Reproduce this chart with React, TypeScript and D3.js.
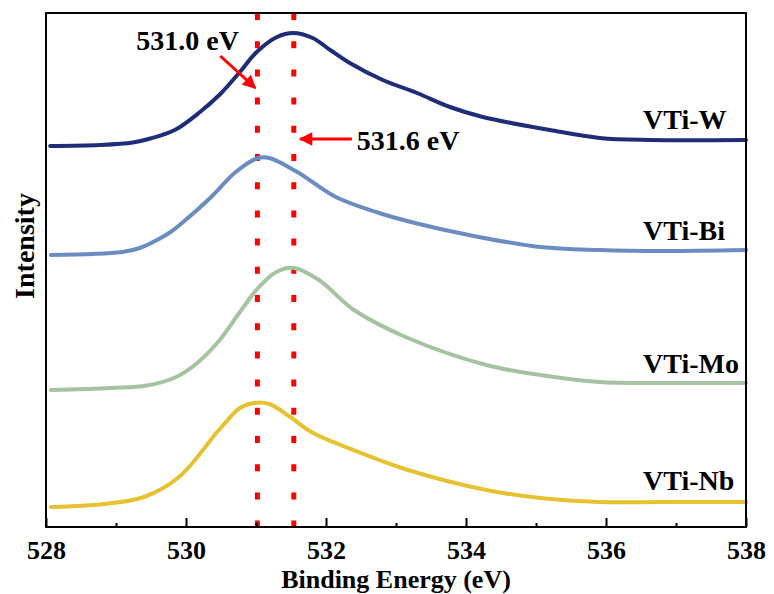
import { useEffect, useRef } from 'react'
import * as d3 from 'd3'

// O 1s spectra, binding energy (eV) vs intensity (a.u., stacked offsets)
const seriesW: [number, number][] = [
  [528.06, 381], [528.77, 382], [529.24, 384.5], [529.49, 388.5], [529.84, 397],
  [530.2, 415], [530.49, 433], [530.77, 455], [531.01, 475], [531.3, 490],
  [531.53, 494], [531.81, 489], [532.06, 477], [532.34, 464], [532.81, 447],
  [533.3, 434], [533.77, 420], [534.24, 410], [535.2, 397], [535.91, 389],
  [536.63, 387], [538, 387],
]
const seriesBi: [number, number][] = [
  [528.07, 272], [529.09, 275], [529.34, 279], [529.6, 287.5], [529.78, 295],
  [529.96, 305], [530.36, 330], [530.71, 355], [531.03, 369], [531.19, 369],
  [531.59, 355], [532.14, 330], [532.76, 314], [533.27, 304], [534.04, 292],
  [535.06, 280], [535.91, 277], [536.8, 276], [538, 277],
]
const seriesMo: [number, number][] = [
  [528.07, 137], [528.93, 139], [529.44, 141.5], [529.86, 150], [530.16, 164],
  [530.47, 186], [530.77, 215], [531.03, 239], [531.29, 255], [531.54, 259],
  [531.9, 247], [532.4, 217], [533.17, 189], [534.29, 162], [535.06, 152],
  [535.91, 145], [536.8, 144], [538, 144],
]
const seriesNb: [number, number][] = [
  [528.07, 20], [528.83, 23], [529.4, 30], [529.9, 50], [530.47, 97],
  [530.77, 119], [530.97, 124], [531.19, 123], [531.49, 110], [531.79, 95],
  [532.5, 74], [533.17, 57], [534.29, 37], [535.06, 29], [535.91, 25],
  [536.8, 25], [538, 25],
]

const seriesNames = ['VTi-W', 'VTi-Bi', 'VTi-Mo', 'VTi-Nb']
const seriesColors = ['#1f2d78', '#6b8cc0', '#a6c3a1', '#e6c130']
const labelPos: [number, number][] = [[536.53, 398], [536.53, 287], [536.53, 154], [536.53, 37]]

const majorTicks = [528, 530, 532, 534, 536, 538]
const minorTicks = [529, 531, 533, 535, 537]
const refLines = [531.02, 531.54]

const FONT = '"Liberation Serif", "DejaVu Serif", serif'

export default function App() {
  const svgRef = useRef<SVGSVGElement>(null)

  useEffect(() => {
    if (!svgRef.current) return
    document.body.style.margin = '0'

    const margin = { top: 13, right: 28, bottom: 67, left: 46 }
    const W = 774, H = 594
    const width = W - margin.left - margin.right
    const height = H - margin.top - margin.bottom

    d3.select(svgRef.current).selectAll('*').remove()
    const root = d3.select(svgRef.current)
      .style('font-family', FONT)
      .style('font-weight', 'bold')
    const svg = root.append('g')
      .attr('transform', `translate(${margin.left},${margin.top})`)

    const x = d3.scaleLinear().domain([528, 538]).range([0, width])
    const y = d3.scaleLinear().domain([0, 514]).range([height, 0])

    const line = d3.line<[number, number]>()
      .x(d => x(d[0]))
      .y(d => y(d[1]))
      .curve(d3.curveCatmullRom.alpha(0.5))

    const label = (sel: any, size: number) => sel
      .style('font-family', FONT)
      .style('font-weight', 'bold')
      .style('font-size', `${size}px`)
      .attr('fill', '#000')

    // reference lines
    refLines.forEach(v => {
      svg.append('line')
        .attr('x1', x(v)).attr('x2', x(v))
        .attr('y1', 0).attr('y2', height)
        .attr('stroke', '#ff0000')
        .attr('stroke-width', 5)
        .attr('stroke-dasharray', '7,21.2')
    })

    const allSeries = [seriesW, seriesBi, seriesMo, seriesNb]
    allSeries.forEach((s, i) => {
      svg.append('path')
        .datum(s)
        .attr('fill', 'none')
        .attr('stroke', seriesColors[i])
        .attr('stroke-width', 4)
        .attr('stroke-linejoin', 'round')
        .attr('stroke-linecap', 'round')
        .attr('d', line)

      svg.append('text')
        .attr('x', x(labelPos[i][0]))
        .attr('y', y(labelPos[i][1]))
        .call(label, 28)
        .text(seriesNames[i])
    })

    // annotation arrows
    const defs = root.append('defs')
    defs.append('marker')
      .attr('id', 'arrowhead')
      .attr('viewBox', '0 0 10 10')
      .attr('refX', 9).attr('refY', 5)
      .attr('markerWidth', 5).attr('markerHeight', 4.5)
      .attr('orient', 'auto')
      .append('path')
      .attr('d', 'M0,0 L10,5 L0,10 z')
      .attr('fill', '#ff0000')

    const arrows = [
      { from: [530.49, 471], to: [530.99, 439] },
      { from: [532.37, 388], to: [531.63, 388] },
    ]
    arrows.forEach(a => {
      svg.append('line')
        .attr('x1', x(a.from[0])).attr('y1', y(a.from[1]))
        .attr('x2', x(a.to[0])).attr('y2', y(a.to[1]))
        .attr('stroke', '#ff0000')
        .attr('stroke-width', 3)
        .attr('marker-end', 'url(#arrowhead)')
    })

    const notes = [
      { text: '531.0 eV', at: [529.29, 477] },
      { text: '531.6 eV', at: [532.44, 377] },
    ]
    notes.forEach(n => {
      svg.append('text')
        .attr('x', x(n.at[0]))
        .attr('y', y(n.at[1]))
        .call(label, 28)
        .text(n.text)
    })

    // frame
    svg.append('rect')
      .attr('x', 0).attr('y', 0)
      .attr('width', width).attr('height', height)
      .attr('fill', 'none')
      .attr('stroke', '#000')
      .attr('stroke-width', 2)

    // x axis, ticks pointing inward
    svg.append('g')
      .attr('transform', `translate(0,${height})`)
      .call(d3.axisBottom(x).tickValues(majorTicks).tickSize(-9).tickPadding(13.5).tickFormat(d3.format('d')))
      .call(g => g.select('.domain').remove())
      .call(g => g.attr('font-family', null).attr('font-size', null))
      .call(g => g.selectAll('line').attr('stroke', '#000').attr('stroke-width', 2))
      .call(g => g.selectAll('text').call(label, 26))

    svg.append('g')
      .attr('transform', `translate(0,${height})`)
      .call(d3.axisBottom(x).tickValues(minorTicks).tickSize(-4).tickFormat(() => ''))
      .call(g => g.select('.domain').remove())
      .call(g => g.selectAll('line').attr('stroke', '#000').attr('stroke-width', 2))

    svg.append('text')
      .attr('x', width / 2)
      .attr('y', height + 61)
      .attr('text-anchor', 'middle')
      .call(label, 26)
      .text('Binding Energy (eV)')

    svg.append('text')
      .attr('transform', `translate(${-12},${233}) rotate(-90)`)
      .attr('text-anchor', 'middle')
      .call(label, 28)
      .text('Intensity')
  }, [])

  return <svg ref={svgRef} width={774} height={594} style={{ display: 'block' }} />
}
